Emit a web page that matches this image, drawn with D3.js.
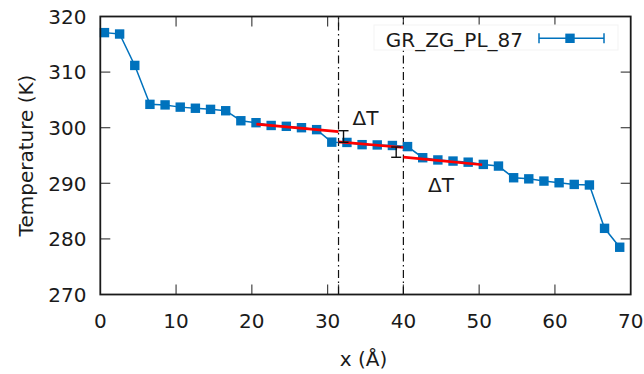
<!DOCTYPE html>
<html>
<head>
<meta charset="utf-8">
<script src="https://cdn.jsdelivr.net/npm/d3@7"></script>
<style>
  body { margin: 0; background: #fff; }
  text { font-family: "DejaVu Sans", sans-serif; font-size: 20px; fill: #1a1a1a; }
</style>
</head>
<body>
<svg width="644" height="374"></svg>
<script>
const width = 644,
    height = 374,
    margin = ({ top: 16.5, right: 13.3, bottom: 79.5, left: 100.3 });

// profile points (x in Å, T in K)
const xs = [0.55, 2.55, 4.55, 6.55, 8.55, 10.55, 12.55, 14.55, 16.55, 18.55,
  20.55, 22.55, 24.55, 26.55, 28.55, 30.55, 32.55, 34.55, 36.55, 38.55,
  40.55, 42.55, 44.55, 46.55, 48.55, 50.55, 52.55, 54.55, 56.55, 58.55,
  60.55, 62.55, 64.55, 66.55, 68.55];
const temps = [317.1, 316.85, 311.2, 304.2, 304.1, 303.7, 303.5, 303.3, 303.05, 301.25,
  300.9, 300.4, 300.25, 300.0, 299.65, 297.4, 297.35, 296.95, 296.9, 296.8,
  296.6, 294.6, 294.2, 294.0, 293.8, 293.4, 293.1, 291.0, 290.8, 290.4,
  290.1, 289.8, 289.7, 281.9, 278.5];

// linear fits [x0, T0, x1, T1]
const fits = [
  [20.6, 300.65, 31.44, 299.3],
  [31.44, 297.45, 40, 296.45],
  [40, 294.7, 50.4, 293.35]
];
// ΔT bars [x, Tlow, Thigh]
const deltas = [[32.1, 297.37, 299.46], [39.05, 294.68, 296.53]];
const deltaLabels = [[33.3, 300.5], [43.25, 288.5]];
const cuts = [31.44, 40];

const xTicks = [0, 10, 20, 30, 40, 50, 60, 70];
const yTicks = [270, 280, 290, 300, 310, 320];
const seriesName = "GR_ZG_PL_87";

const blue = "#0072bd";
const svg = d3.select("svg");

const x = d3.scaleLinear().domain([0, 70]).range([margin.left, width - margin.right]);
const y = d3.scaleLinear().domain([270, 320]).range([height - margin.bottom, margin.top]);

const x0 = x.range()[0], x1 = x.range()[1], y0 = y.range()[0], y1 = y.range()[1];

// tick marks (inward, mirrored)
const ticks = svg.append("g").attr("stroke", "#444").attr("stroke-width", 1.2);
xTicks.concat([cuts[0]]).forEach(t => {
  if (t === 0 || t === 70) return;
  ticks.append("line").attr("x1", x(t)).attr("x2", x(t)).attr("y1", y0).attr("y2", y0 - 10);
  ticks.append("line").attr("x1", x(t)).attr("x2", x(t)).attr("y1", y1).attr("y2", y1 + 10);
});
yTicks.forEach(t => {
  if (t === 270 || t === 320) return;
  ticks.append("line").attr("x1", x0).attr("x2", x0 + 10).attr("y1", y(t)).attr("y2", y(t));
  ticks.append("line").attr("x1", x1).attr("x2", x1 - 10).attr("y1", y(t)).attr("y2", y(t));
});

// vertical dash-dot lines
svg.append("g").selectAll("line")
  .data(cuts)
  .join("line")
  .attr("x1", d => x(d)).attr("x2", d => x(d))
  .attr("y1", y0).attr("y2", y1)
  .attr("stroke", "#111")
  .attr("stroke-width", 1.2)
  .attr("stroke-dasharray", "8,3.5,1.5,3.5");

// data line + markers
const line = d3.line().x((d, i) => x(xs[i])).y(d => y(d));
svg.append("path")
  .attr("d", line(temps))
  .attr("fill", "none")
  .attr("stroke", blue)
  .attr("stroke-width", 1.5);

svg.append("g").selectAll("rect")
  .data(temps)
  .join("rect")
  .attr("x", (d, i) => x(xs[i]) - 4.7)
  .attr("y", d => y(d) - 4.7)
  .attr("width", 9.4)
  .attr("height", 9.4)
  .attr("fill", blue);

// fits
svg.append("g").selectAll("line")
  .data(fits)
  .join("line")
  .attr("x1", d => x(d[0])).attr("y1", d => y(d[1]))
  .attr("x2", d => x(d[2])).attr("y2", d => y(d[3]))
  .attr("stroke", "#f00")
  .attr("stroke-width", 2.6);

// ΔT bars
const bars = svg.append("g").attr("stroke", "#111").attr("stroke-width", 1.4);
deltas.forEach(d => {
  bars.append("line").attr("x1", x(d[0])).attr("x2", x(d[0])).attr("y1", y(d[1])).attr("y2", y(d[2]));
  bars.append("line").attr("x1", x(d[0]) - 5).attr("x2", x(d[0]) + 5).attr("y1", y(d[1])).attr("y2", y(d[1]));
  bars.append("line").attr("x1", x(d[0]) - 5).attr("x2", x(d[0]) + 5).attr("y1", y(d[2])).attr("y2", y(d[2]));
});

svg.append("g").selectAll("text")
  .data(deltaLabels)
  .join("text")
  .attr("x", d => x(d[0]))
  .attr("y", d => y(d[1]))
  .text("ΔT");

// legend
const lg = svg.append("g");
lg.append("rect")
  .attr("x", 374).attr("y", 25).attr("width", 244).attr("height", 25)
  .attr("fill", "#fff").attr("stroke", "#f3f3f3");
lg.append("text")
  .attr("x", 523).attr("y", 46.5)
  .attr("text-anchor", "end")
  .text(seriesName);
const ly = 38.3;
lg.append("line").attr("x1", 539).attr("x2", 604).attr("y1", ly).attr("y2", ly)
  .attr("stroke", blue).attr("stroke-width", 1.5);
[539, 604].forEach(cx => lg.append("line")
  .attr("x1", cx).attr("x2", cx).attr("y1", ly - 5).attr("y2", ly + 5)
  .attr("stroke", blue).attr("stroke-width", 1.5));
lg.append("rect").attr("x", 570 - 4.7).attr("y", ly - 4.7).attr("width", 9.4).attr("height", 9.4)
  .attr("fill", blue);

// border
svg.append("rect")
  .attr("x", x0).attr("y", y1)
  .attr("width", x1 - x0).attr("height", y0 - y1)
  .attr("fill", "none")
  .attr("stroke", "#1a1a1a")
  .attr("stroke-width", 1.8);

// tick labels
svg.append("g").selectAll("text")
  .data(xTicks)
  .join("text")
  .attr("x", d => x(d))
  .attr("y", 327.5)
  .attr("text-anchor", "middle")
  .text(d => d);

svg.append("g").selectAll("text")
  .data(yTicks)
  .join("text")
  .attr("x", 86.5)
  .attr("y", d => y(d) + 7.3)
  .attr("text-anchor", "end")
  .text(d => d);

// axis titles
svg.append("text")
  .attr("x", x(35) - 2)
  .attr("y", 365.5)
  .attr("text-anchor", "middle")
  .text("x (Å)");

svg.append("text")
  .attr("transform", "translate(32.5," + ((y0 + y1) / 2) + ") rotate(-90)")
  .attr("text-anchor", "middle")
  .text("Temperature (K)");
</script>
</body>
</html>
